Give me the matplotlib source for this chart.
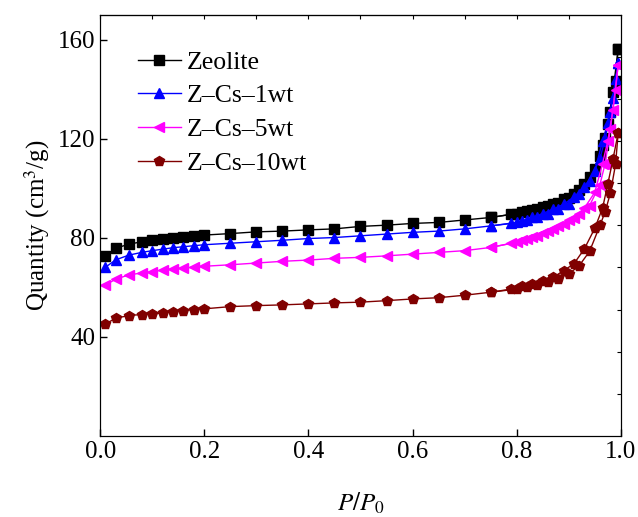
import numpy as np
import matplotlib
matplotlib.use("Agg")
import matplotlib.pyplot as plt

plt.rcParams['font.family'] = ['Liberation Serif', 'DejaVu Serif']
plt.rcParams['mathtext.fontset'] = 'stix'

# adsorption branch pressures
p_ads = [0.01, 0.03, 0.055, 0.08, 0.1, 0.12, 0.14, 0.16, 0.18, 0.2, 0.25, 0.3, 0.35,
         0.4, 0.45, 0.5, 0.55, 0.6, 0.65, 0.7, 0.75, 0.8, 0.82, 0.84, 0.86, 0.88,
         0.9, 0.92, 0.94, 0.96, 0.97, 0.98, 0.99, 0.995]
# desorption branch pressures
p_des = [0.995, 0.985, 0.975, 0.965, 0.95, 0.93, 0.91, 0.89, 0.87, 0.85, 0.83, 0.81, 0.79, 0.75]

zeo_ads = [72.7, 75.8, 77.4, 78.4, 79.0, 79.5, 79.9, 80.4, 80.8, 81.1, 81.7, 82.4, 82.7,
           83.2, 83.6, 84.6, 85.1, 85.8, 86.2, 87.2, 88.2, 89.8, 90.8, 91.6, 92.8, 94.2,
           96.0, 99.5, 104.5, 113.0, 120.5, 131.0, 143.5, 156.3]
zeo_des = [156.3, 139.0, 126.0, 117.5, 107.6, 101.6, 97.5, 95.6, 93.8, 92.5, 91.3, 90.4, 89.5, 88.2]

cs1_ads = [68.1, 71.1, 73.0, 74.1, 74.8, 75.4, 76.0, 76.4, 76.8, 77.2, 77.8, 78.4, 79.0,
           79.7, 80.1, 80.8, 81.5, 82.2, 82.7, 83.6, 84.8, 86.2, 87.2, 88.4, 89.8, 91.5,
           93.8, 97.5, 103.0, 112.0, 120.0, 131.0, 144.0, 150.6]
cs1_des = [150.6, 136.5, 126.4, 119.0, 107.0, 100.5, 96.5, 93.5, 91.5, 89.8, 88.2, 86.8, 85.8, 84.8]

cs5_ads = [60.9, 63.3, 65.0, 65.8, 66.3, 67.0, 67.4, 67.8, 68.1, 68.5, 69.1, 69.8, 70.5,
           71.0, 71.7, 72.1, 72.7, 73.4, 74.1, 74.8, 76.1, 78.2, 79.4, 80.8, 82.6, 84.8,
           87.0, 89.5, 93.0, 101.5, 110.0, 124.0, 139.9, 149.9]
cs5_des = [149.9, 131.8, 119.0, 110.0, 98.3, 92.0, 88.0, 85.5, 83.5, 82.0, 80.5, 79.0, 77.8, 76.1]

cs10_ads = [45.2, 47.5, 48.6, 49.0, 49.2, 49.6, 50.2, 50.6, 51.0, 51.3, 52.2, 52.6, 52.9,
            53.3, 53.7, 54.0, 54.6, 55.3, 55.8, 56.8, 58.0, 59.3, 60.2, 61.0, 62.2, 63.5,
            65.4, 68.7, 74.5, 85.0, 90.5, 98.0, 109.7, 122.4]
cs10_des = [122.4, 111.7, 101.6, 92.0, 83.8, 75.5, 69.5, 66.7, 64.0, 62.7, 61.5, 60.4, 59.3, 58.0]

labels = ['Zeolite', 'Z\u2013Cs\u20131wt', 'Z\u2013Cs\u20135wt', 'Z\u2013Cs\u201310wt']
colors = ['black', '#0000ff', '#ff00ff', '#800000']
markers = ['s', '^', '<', 'p']
ads = [zeo_ads, cs1_ads, cs5_ads, cs10_ads]
des = [zeo_des, cs1_des, cs5_des, cs10_des]

fig = plt.figure(figsize=(6.38, 5.17), dpi=100)
ax = fig.add_axes([0.157, 0.157, 0.816, 0.814])

for lab, c, m, ya, yd in zip(labels, colors, markers, ads, des):
    ax.plot(p_ads, ya, color=c, marker=m, markersize=7.5, lw=1, label=lab)
    ax.plot(p_des, yd, color=c, marker=m, markersize=7.5, lw=1)

ax.set_xlim(0, 1.0)
ax.set_ylim(0, 170)
ax.set_xticks(np.arange(0, 1.01, 0.2))
ax.set_yticks([40, 80, 120, 160])
ax.tick_params(direction='in', length=5, labelsize=18, width=1)
ax.set_xticklabels(['0.0', '0.2', '0.4', '0.6', '0.8', '1.0'])
ax.set_xlabel('$P/P_0$', fontsize=18, labelpad=20)
ax.set_ylabel('Quantity (cm$^3$/g)', fontsize=18, labelpad=4)

top = ax.secondary_xaxis('top')
top.set_xticks(np.arange(0, 1.01, 0.1))
top.tick_params(direction='in', length=3, labeltop=False)

right = ax.twinx()
right.set_ylim(0, 1)
right.set_yticks(np.arange(0.1, 1.0, 0.1))
right.tick_params(direction='in', length=3, labelright=False)

leg = ax.legend(loc='upper left', bbox_to_anchor=(0.052, 0.94), frameon=False,
                fontsize=18.5, handlelength=1.7, handletextpad=0.2, labelspacing=0.42,
                borderaxespad=0)

fig.savefig('out.png', dpi=100)
